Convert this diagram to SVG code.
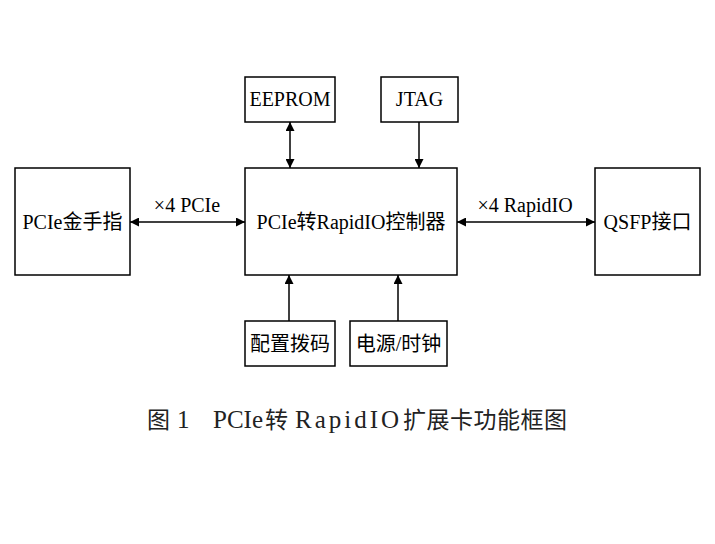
<svg xmlns="http://www.w3.org/2000/svg" width="715" height="544" viewBox="0 0 715 544">
<style>
.box{fill:#fff;stroke:#000;stroke-width:1.5}
.t{font-family:"Liberation Serif","Noto Sans CJK SC",serif;font-size:20px;fill:#000;text-anchor:middle}
.lbl{font-family:"Liberation Serif","Noto Sans CJK SC",serif;font-size:20px;fill:#000;text-anchor:middle}
.cap{font-family:"Liberation Serif","Noto Sans CJK SC",serif;font-size:23px;fill:#222}
.capl{font-size:25px}
.c{stroke:#000;stroke-width:1.5;fill:none}
</style>
<defs>
<marker id="ah" viewBox="0 0 10 10" refX="10" refY="5" markerWidth="6" markerHeight="6" orient="auto-start-reverse" markerUnits="strokeWidth">
<path d="M0,0 L10,5 L0,10 z" fill="#000"/>
</marker>
</defs>
<rect width="715" height="544" fill="#fff"/>
<g id="pcie-finger"><rect class="box" x="15" y="168" width="115" height="107"/><text class="t" x="72.5" y="229">PCIe金手指</text></g>
<g id="controller"><rect class="box" x="245" y="168" width="212" height="107"/><text class="t" x="351" y="229">PCIe转RapidIO控制器</text></g>
<g id="eeprom"><rect class="box" x="245" y="77" width="90" height="45"/><text class="t" x="290" y="106">EEPROM</text></g>
<g id="jtag"><rect class="box" x="381" y="77" width="77" height="45"/><text class="t" x="419.5" y="106">JTAG</text></g>
<g id="qsfp"><rect class="box" x="595" y="168" width="105" height="107"/><text class="t" x="647.5" y="229">QSFP接口</text></g>
<g id="dip"><rect class="box" x="245" y="321" width="90" height="45"/><text class="t" x="290" y="351">配置拨码</text></g>
<g id="power"><rect class="box" x="350" y="321" width="97" height="45"/><text class="t" x="398.5" y="351">电源/时钟</text></g>
<g id="connectors">
<line class="c" x1="130" y1="222" x2="245" y2="222" marker-start="url(#ah)" marker-end="url(#ah)"/>
<line class="c" x1="457" y1="222" x2="595" y2="222" marker-start="url(#ah)" marker-end="url(#ah)"/>
<line class="c" x1="290" y1="122" x2="290" y2="168" marker-start="url(#ah)" marker-end="url(#ah)"/>
<line class="c" x1="419" y1="122" x2="419" y2="168" marker-end="url(#ah)"/>
<line class="c" x1="289" y1="321" x2="289" y2="275" marker-end="url(#ah)"/>
<line class="c" x1="398" y1="321" x2="398" y2="275" marker-end="url(#ah)"/>
<text class="lbl" x="187" y="212">×4 PCIe</text>
<text class="lbl" x="525" y="212">×4 RapidIO</text>
</g>
<g id="caption">
<text class="cap" x="147" y="428">图</text>
<text class="cap capl" x="177" y="428">1</text>
<text class="cap capl" x="213" y="428" textLength="50" lengthAdjust="spacing">PCIe</text>
<text class="cap" x="265" y="428">转</text>
<text class="cap capl" x="295" y="428" textLength="104" lengthAdjust="spacing">RapidIO</text>
<text class="cap" x="403" y="428" textLength="164" lengthAdjust="spacing">扩展卡功能框图</text>
</g>
</svg>
